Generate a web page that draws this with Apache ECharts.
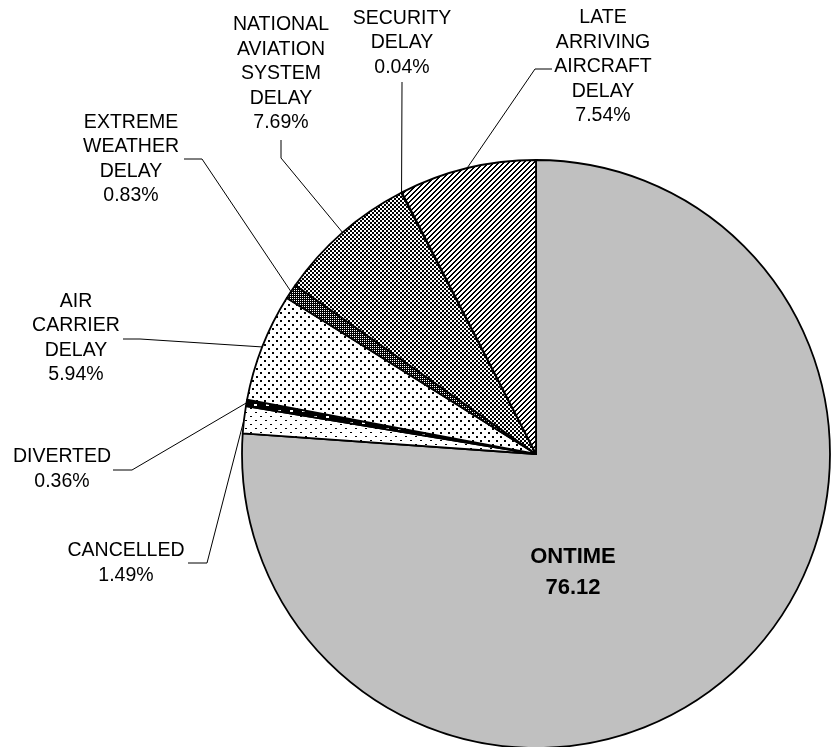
<!DOCTYPE html>
<html>
<head>
<meta charset="utf-8">
<script src="https://cdn.jsdelivr.net/npm/echarts@6/dist/echarts.min.js"></script>
<style>
html,body{margin:0;padding:0;background:#fff;}
#chart{width:838px;height:747px;}
</style>
</head>
<body>
<div id="chart"></div>
<script>
// ---- data ----
const categories = ['ONTIME', 'CANCELLED', 'DIVERTED', 'AIR CARRIER DELAY', 'EXTREME WEATHER DELAY',
  'NATIONAL AVIATION SYSTEM DELAY', 'SECURITY DELAY', 'LATE ARRIVING AIRCRAFT DELAY'];
const values = [76.12, 1.49, 0.36, 5.94, 0.83, 7.69, 0.04, 7.54];
const labelTexts = ['ONTIME', 'CANCELLED', 'DIVERTED', 'AIR\nCARRIER\nDELAY', 'EXTREME\nWEATHER\nDELAY',
  'NATIONAL\nAVIATION\nSYSTEM\nDELAY', 'SECURITY\nDELAY', 'LATE\nARRIVING\nAIRCRAFT\nDELAY'];

// ---- layout (label placement and leader elbows) ----
const CX = 536, CY = 454, R = 294;
const labelLayoutCfg = [
  { x: 573, y: 572, line: null },
  { x: 126, y: 563, line: [[207, 563], [188, 563]] },
  { x: 62,  y: 469, line: [[132, 470], [113, 470]] },
  { x: 76,  y: 338, line: [[140, 339], [123, 339]] },
  { x: 131, y: 159, line: [[202, 159], [184, 159]] },
  { x: 281, y: 74,  line: [[281, 158], [281, 140]] },
  { x: 402, y: 43,  line: [[402, 83], [402, 82]] },
  { x: 603, y: 67,  line: [[535, 69], [552, 69]] }
];

// ---- fill patterns ----
function makePattern(w, h, fn) {
  const c = document.createElement('canvas');
  c.width = w; c.height = h;
  const ctx = c.getContext('2d');
  const img = ctx.createImageData(w, h);
  for (let y = 0; y < h; y++) for (let x = 0; x < w; x++) {
    const black = fn(x, y);
    const i = (y * w + x) * 4;
    const v = black ? 0 : 255;
    img.data[i] = v; img.data[i + 1] = v; img.data[i + 2] = v; img.data[i + 3] = 255;
  }
  ctx.putImageData(img, 0, 0);
  return { image: c, repeat: 'repeat' };
}
const fills = [
  '#c0c0c0',
  makePattern(10, 8, (x, y) => (x === 0 && y === 0) || (x === 5 && y === 4) || (x === 1 && y === 0) || (x === 6 && y === 4)),
  makePattern(12, 6, (x, y) => !((y === 2 || y === 3) && x >= 2 && x <= 4)),
  makePattern(8, 8, (x, y) => ((x < 2 && y < 2) || (x >= 4 && x < 6 && y >= 4 && y < 6))),
  makePattern(2, 2, (x, y) => !(x === 0 && y === 0)),
  makePattern(4, 4, (x, y) => ((Math.floor(x / 2) + Math.floor(y / 2)) % 2 === 0)),
  makePattern(4, 4, (x, y) => ((Math.floor(x / 2) + Math.floor(y / 2)) % 2 === 0)),
  makePattern(5, 5, (x, y) => ((x + y) % 5) < 2)
];

const total = values.reduce((a, b) => a + b, 0);
function anchorFor(idx) {
  let cum = 0;
  for (let i = 0; i < idx; i++) cum += values[i];
  const mid = (cum + values[idx] / 2) / total * Math.PI * 2;
  return [CX + R * Math.sin(mid), CY - R * Math.cos(mid)];
}

const data = categories.map((name, i) => ({
  name: name,
  value: values[i],
  itemStyle: { color: fills[i] },
  label: i === 0 ? {
    fontSize: 22, fontWeight: 'bold', lineHeight: 31
  } : {},
  labelLine: { show: i !== 0 }
}));

const chart = echarts.init(document.getElementById('chart'), null, { renderer: 'canvas' });
chart.setOption({
  backgroundColor: '#ffffff',
  animation: false,
  series: [{
    type: 'pie',
    center: [CX, CY],
    radius: R,
    startAngle: 90,
    clockwise: true,
    avoidLabelOverlap: false,
    emphasis: { disabled: true },
    itemStyle: { borderColor: '#000', borderWidth: 1.8 },
    label: {
      show: true,
      position: 'outside',
      color: '#000',
      fontFamily: 'Liberation Sans, Arial, sans-serif',
      fontSize: 19.5,
      lineHeight: 24.5,
      align: 'center',
      formatter: function (p) {
        const v = p.dataIndex === 0 ? p.value.toFixed(2) : p.value.toFixed(2) + '%';
        return labelTexts[p.dataIndex] + '\n' + v;
      }
    },
    labelLine: {
      show: true,
      length: 10,
      length2: 10,
      lineStyle: { color: '#000', width: 1 }
    },
    labelLayout: function (params) {
      const cfg = labelLayoutCfg[params.dataIndex];
      const out = { x: cfg.x, y: cfg.y, align: 'center', verticalAlign: 'middle' };
      if (cfg.line) {
        const a = (params.labelLinePoints && params.labelLinePoints[0]) || anchorFor(params.dataIndex);
        out.labelLinePoints = [[a[0], a[1]], cfg.line[0], cfg.line[1]];
      }
      return out;
    },
    data: data
  }]
});
</script>
</body>
</html>
